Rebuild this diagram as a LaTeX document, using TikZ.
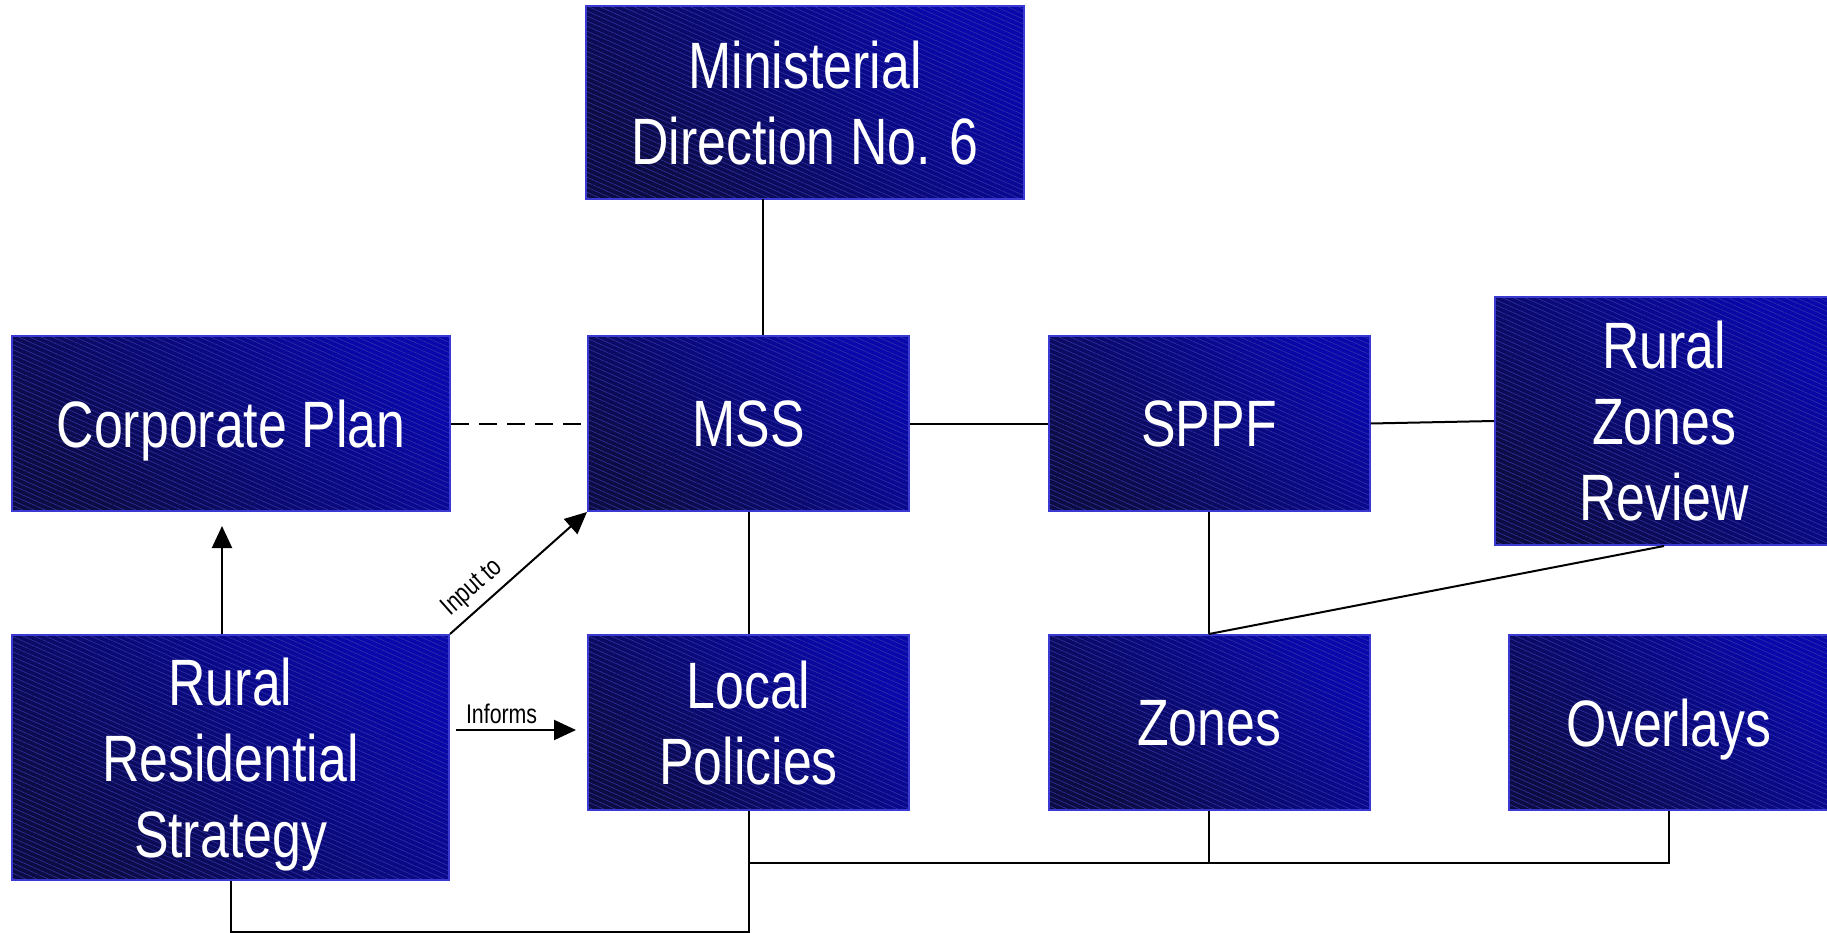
\documentclass[tikz,border=0pt]{standalone}
\usepackage{fontspec}
\setmainfont{Liberation Sans}[FakeStretch=0.79]
\usetikzlibrary{arrows.meta,patterns.meta,calc}

\definecolor{boxedge}{RGB}{58,58,210}
\definecolor{boxlight}{RGB}{8,8,172}
\definecolor{boxdark}{RGB}{12,12,66}
\definecolor{boxhatch}{RGB}{52,52,168}

\tikzset{
  box/.style={
    draw=boxedge, line width=2pt, text=white, align=center, inner sep=0pt,
    font=\fontsize{65.6}{76}\selectfont, text depth=0pt,
    preaction={top color=boxlight, bottom color=boxdark, shading angle=-45},
    pattern={Lines[angle=-24, distance=4.6pt, line width=0.55pt]},
    pattern color=boxhatch},
  wide/.style={minimum width=438pt, minimum height=175pt},
  narrow/.style={minimum width=321pt, minimum height=175pt},
  link/.style={line width=2pt, draw=black},
  arr/.style={link, -{Triangle[length=22pt,width=20pt]}},
  lbl/.style={font=\fontsize{27}{32}\selectfont, text=black, inner sep=2pt},
}

\begin{document}
\begin{tikzpicture}[x=1pt, y=-1pt]
\useasboundingbox (0,0) rectangle (1827,933);

% boxes
\node[box, minimum width=438pt, minimum height=193pt] (mdir) at (805,102.5) {Ministerial\\Direction No. 6};
\node[box, wide]   (corp)  at (231,423.5)   {Corporate Plan};
\node[box, narrow] (mss)   at (748.5,423.5) {MSS};
\node[box, narrow] (sppf)  at (1209,423.5)  {SPPF};
\node[box, minimum width=338pt, minimum height=248pt] (rzr) at (1664,421) {Rural\\Zones\\Review};
\node[box, minimum width=437pt, minimum height=245pt] (rrs) at (230.5,757.5) {Rural\\Residential\\Strategy};
\node[box, narrow] (lp)    at (748.5,722.5) {Local\\Policies};
\node[box, narrow] (zones) at (1209,722.5)  {Zones};
\node[box, narrow] (over)  at (1669,722.5)  {Overlays};

% connectors
\draw[link] ([xshift=-42pt]mdir.south) -- ([xshift=-42pt]mdir.south |- mss.north);
\draw[link, dash pattern=on 18pt off 10pt] (corp.east) -- (mss.west);
\draw[link] (mss.east) -- (sppf.west);
\draw[link] (sppf.east) -- (rzr.west);
\draw[link] (sppf.south) -- (zones.north);
\draw[link] (rzr.south) -- (zones.north);
\draw[link] (mss.south) -- (lp.north);

\draw[arr, shorten >=14pt] ([xshift=-8.5pt]rrs.north) -- ([xshift=-8.5pt]rrs.north |- corp.south);
\draw[arr] (rrs.north east) -- (mss.south west)
  node[lbl, pos=0.26, sloped, above=4pt] {Input to};
\draw[arr] ([shift={(6,7.5)}]rrs.east |- lp.center) -- ([shift={(-11,7.5)}]lp.west)
  node[lbl, pos=0.38, above=3pt] {Informs};

% bottom bus lines
\draw[link] (lp.south) -- ++(0,52) -| (over.south);
\draw[link] (zones.south) -- ++(0,52);
\draw[link] (rrs.south) -- ++(0,51) -| (lp.south);
\end{tikzpicture}
\end{document}
